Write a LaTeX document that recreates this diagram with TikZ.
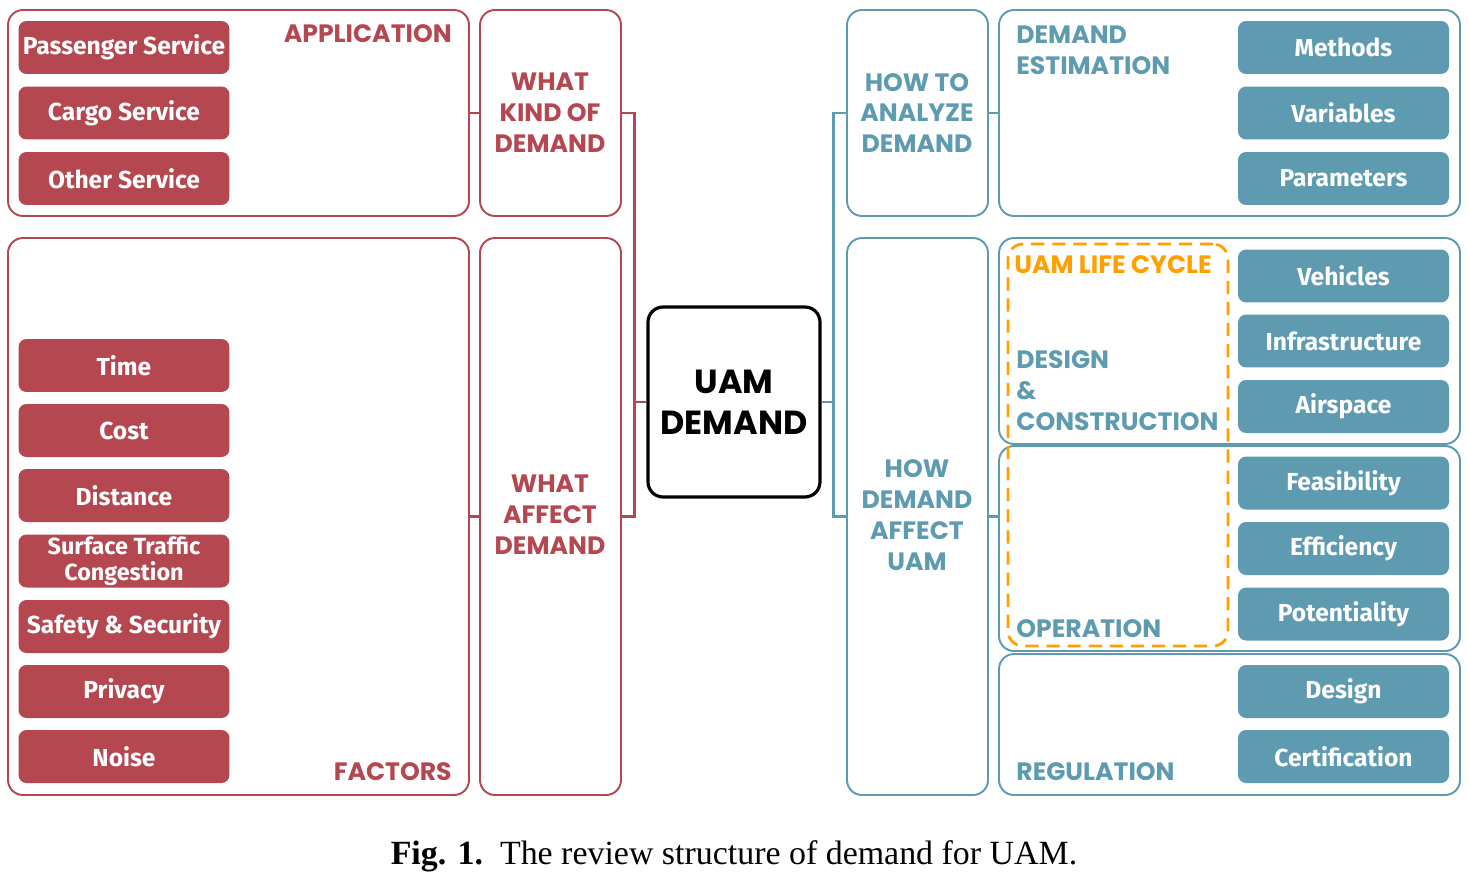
\documentclass[tikz,border=0pt]{standalone}
\usepackage{fontspec}
\setmainfont{Liberation Serif}
\newfontfamily\popf{Poppins}
\newfontfamily\firaf{Fira Sans}
\usetikzlibrary{fit}
\definecolor{cred}{RGB}{181,71,81}
\definecolor{cblue}{RGB}{94,155,176}
\definecolor{corange}{RGB}{255,160,0}
\tikzset{
  rbox/.style={draw=cred, line width=1.1pt, rounded corners=0.3cm, inner sep=0pt},
  bbox/.style={draw=cblue, line width=1.1pt, rounded corners=0.3cm, inner sep=0pt},
  pillbase/.style={rounded corners=0.16cm, minimum width=4.22cm, minimum height=1.06cm, text=white, inner sep=1pt, align=center, font=\firaf\bfseries\fontsize{14}{15}\selectfont},
  rpill/.style={pillbase, fill=cred},
  bpill/.style={pillbase, fill=cblue},
  rhead/.style={text=cred, align=center, inner sep=0pt, font=\popf\bfseries\fontsize{14.3}{17.6}\selectfont},
  bhead/.style={text=cblue, align=center, inner sep=0pt, font=\popf\bfseries\fontsize{14.3}{17.6}\selectfont},
  ohead/.style={text=corange, align=left, inner sep=0pt, font=\popf\bfseries\fontsize{14.3}{17.6}\selectfont},
  rconn/.style={draw=cred, line width=1.7pt},
  bconn/.style={draw=cblue, line width=1.7pt},
}
\begin{document}
\begin{tikzpicture}[x=0.02cm,y=-0.02cm]
\useasboundingbox (0,0) rectangle (1469,882);
% ---------- left side ----------
\node[rbox, fit={(8,10)(469,216)}] (app) {};
\node[rbox, fit={(480,10)(621,216)}] (kind) {};
\node[rbox, fit={(8,238)(469,795)}] (fac) {};
\node[rbox, fit={(480,238)(621,795)}] (affect) {};
\node[rhead, anchor=east] (applbl) at (452,34) {APPLICATION};
\node[rhead, anchor=east] (faclbl) at (452,772) {FACTORS};
\node[rhead] (kindlbl) at (550,113) {WHAT\\KIND OF\\DEMAND};
\node[rhead] (afflbl) at (550,515) {WHAT\\AFFECT\\DEMAND};
\node[rpill] (p1) at (124,47.5) {Passenger Service};
\node[rpill] (p2) at (124,113) {Cargo Service};
\node[rpill] (p3) at (124,178.5) {Other Service};
\node[rpill] (f1) at (124,365.5) {Time};
\node[rpill] (f2) at (124,430.5) {Cost};
\node[rpill] (f3) at (124,495.5) {Distance};
\node[rpill, font=\firaf\bfseries\fontsize{13.3}{14.6}\selectfont] (f4) at (124,561) {Surface Traffic\\Congestion};
\node[rpill] (f5) at (124,626.5) {Safety \& Security};
\node[rpill] (f6) at (124,691.5) {Privacy};
\node[rpill] (f7) at (124,756.5) {Noise};
% ---------- centre ----------
\node[draw=black, line width=1.8pt, rounded corners=0.3cm, minimum width=3.44cm, minimum height=3.8cm, align=center, inner sep=0pt, font=\popf\bfseries\fontsize{19}{23.3}\selectfont] (uam) at (734,402) {UAM\\DEMAND};
% ---------- right side ----------
\node[bbox, fit={(847,10)(988,216)}] (howto) {};
\node[bbox, fit={(847,238)(988,795)}] (howaff) {};
\node[bbox, fit={(999,10)(1460,216)}] (est) {};
\node[bbox, fit={(999,238)(1460,444)}] (dc) {};
\node[bbox, fit={(999,446)(1460,651)}] (op) {};
\node[bbox, fit={(999,654)(1460,795)}] (reg) {};
\node[draw=corange, line width=1.6pt, dash pattern=on 7.5pt off 4.5pt, rounded corners=0.3cm, inner sep=0pt, fit={(1008,244)(1228,646)}] (life) {};
\node[bhead] (howtolbl) at (917,113) {HOW TO\\ANALYZE\\DEMAND};
\node[bhead] (howafflbl) at (917,515) {HOW\\DEMAND\\AFFECT\\UAM};
\node[bhead, align=left, anchor=west] (estlbl) at (1016,50.5) {DEMAND\\ESTIMATION};
\node[ohead, anchor=west] (lifelbl) at (1014,265) {UAM LIFE CYCLE};
\node[bhead, align=left, anchor=west] (dclbl) at (1016,391) {DESIGN\\\&\\CONSTRUCTION};
\node[bhead, anchor=west] (oplbl) at (1016,629) {OPERATION};
\node[bhead, anchor=west] (reglbl) at (1016,772) {REGULATION};
\node[bpill] (m1) at (1343.5,47.5) {Methods};
\node[bpill] (m2) at (1343.5,113) {Variables};
\node[bpill] (m3) at (1343.5,178.5) {Parameters};
\node[bpill] (d1) at (1343.5,276) {Vehicles};
\node[bpill] (d2) at (1343.5,341) {Infrastructure};
\node[bpill] (d3) at (1343.5,406.5) {Airspace};
\node[bpill] (o1) at (1343.5,483) {Feasibility};
\node[bpill] (o2) at (1343.5,548.5) {Efficiency};
\node[bpill] (o3) at (1343.5,614) {Potentiality};
\node[bpill] (r1) at (1343.5,691.5) {Design};
\node[bpill] (r2) at (1343.5,756.5) {Certification};
% ---------- connectors ----------
\draw[rconn] (app.east) -- (kind.west);
\draw[rconn] (fac.east) -- (affect.west);
\draw[rconn] (kind.east) -- ++(13,0) coordinate (rj) |- (affect.east);
\draw[rconn] (rj |- uam.west) -- (uam.west);
\draw[bconn] (howto.east) -- (est.west);
\draw[bconn] (howaff.east) -- (op.west |- howaff.east);
\draw[bconn] (howto.west) -- ++(-13,0) coordinate (bj) |- (howaff.west);
\draw[bconn] (uam.east) -- (bj |- uam.east);
% ---------- caption ----------
\node[font=\fontsize{19.3}{22}\selectfont, inner sep=0pt] (cap) at (734,856) {\textbf{Fig. 1.}\enspace The review structure of demand for UAM.};
\end{tikzpicture}
\end{document}
